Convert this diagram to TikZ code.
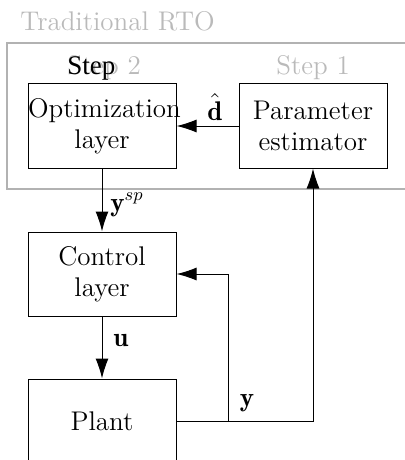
\documentclass[tikz,border=0pt]{standalone}
\usepackage{fontspec}
\usetikzlibrary{arrows.meta}
\newfontfamily\timesfont{Liberation Serif}
\begin{document}
\begin{tikzpicture}[x=0.5pt,y=-0.5pt,
  txt/.style={font=\fontsize{13.5}{15.5}\selectfont, inner sep=0pt},
  blk/.style={txt, draw, line width=0.5pt, text width=74pt, minimum height=42pt, align=center},
  ghost/.style={txt, text=black!27},
  flow/.style={line width=0.5pt, -{Latex[length=10pt,width=6.5pt]}}]
\useasboundingbox (0,0) rectangle (405,460);
\clip (0,0) rectangle (405,460);

% group frame and its captions
\draw[black!30, line width=0.6pt] (7,43) rectangle (430,189);
\node[ghost, anchor=base west] (rto) at (20,31) {Traditional RTO};
\node[ghost, anchor=base west] (s2) at (67,75) {Step 2};
\node[ghost, anchor=base west] (s1) at (276,75) {Step 1};
\node[txt, anchor=base west] (s2b) at (67,75) {\timesfont Step};

% blocks
\node[blk] (opt) at (102,126) {Optimization\\layer};
\node[blk] (est) at (313,126) {Parameter\\estimator};
\node[blk] (ctl) at (102,274) {Control\\layer};
\node[blk] (plant) at (102,421) {Plant};

% signals
\draw[flow] (est) -- (opt);
\draw[flow] (opt) -- (ctl);
\draw[flow] (ctl) -- (plant);
\coordinate (split) at (228,421);
\draw[flow] (plant.east) -| (est.south);
\draw[flow] (split) |- (ctl.east);

% signal labels
\node[txt] (dl) at (215,107) {$\hat{\mathbf{d}}$};
\node[txt, anchor=west] (ysp) at (110,205) {$\mathbf{y}^{sp}$};
\node[txt] (ul) at (121,341) {$\mathbf{u}$};
\node[txt] (yl) at (247,403) {$\mathbf{y}$};
\end{tikzpicture}
\end{document}
